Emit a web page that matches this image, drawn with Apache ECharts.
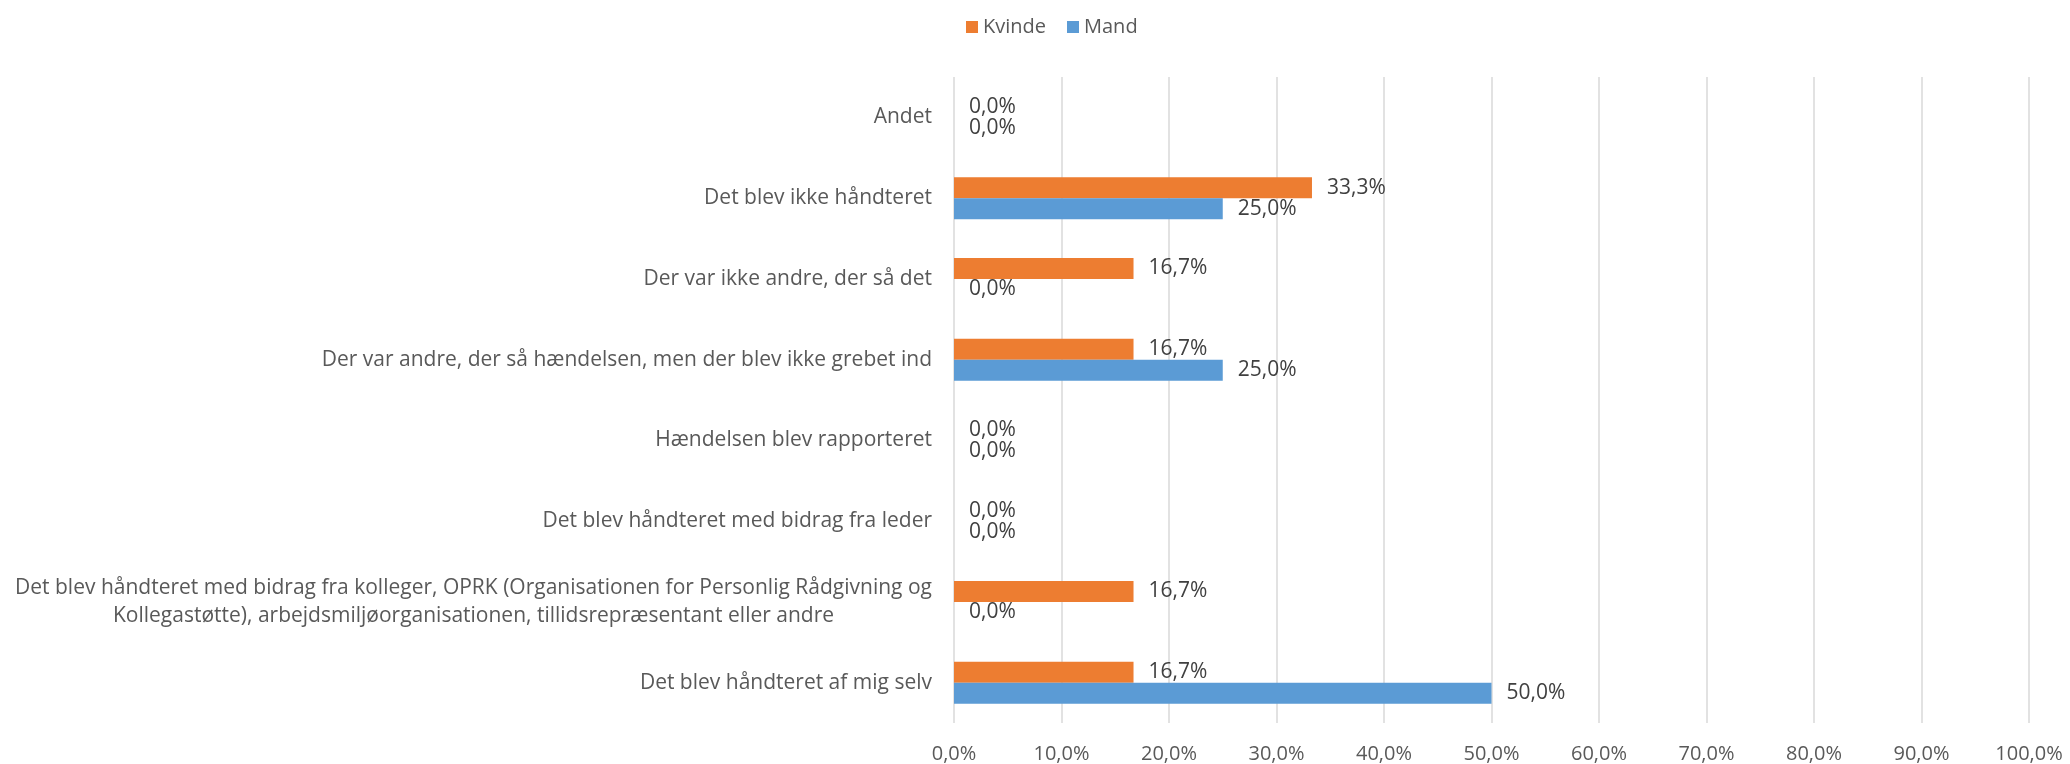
<!DOCTYPE html>
<html>
<head>
<meta charset="utf-8">
<title>Håndtering af hændelsen</title>
<script src="https://cdn.jsdelivr.net/npm/echarts@6/dist/echarts.min.js"></script>
<style>
  html, body { margin: 0; padding: 0; background: #fff; }
  #chart { width: 2070px; height: 764px; }
</style>
</head>
<body>
<div id="chart"></div>
<script>
const categories = [
  'Andet',
  'Det blev ikke håndteret',
  'Der var ikke andre, der så det',
  'Der var andre, der så hændelsen, men der blev ikke grebet ind',
  'Hændelsen blev rapporteret',
  'Det blev håndteret med bidrag fra leder',
  'Det blev håndteret med bidrag fra kolleger, OPRK (Organisationen for Personlig Rådgivning og\nKollegastøtte), arbejdsmiljøorganisationen, tillidsrepræsentant eller andre',
  'Det blev håndteret af mig selv'
]
const kvinde = [0, 33.3, 16.7, 16.7, 0, 0, 16.7, 16.7]
const mand = [0, 25.0, 0, 25.0, 0, 0, 0, 50.0]
const xTicks = [0, 10, 20, 30, 40, 50, 60, 70, 80, 90, 100]

const font = "'Open Sans', sans-serif"
const textColor = '#595959'

// width of the first line of the two-line label, so the lines can be centred
const ctx = document.createElement('canvas').getContext('2d')
ctx.font = "21px 'Open Sans'"
const wrapWidth = Math.ceil(ctx.measureText(categories[6].split('\n')[0]).width)

const pct = v => v.toFixed(1).replace('.', ',') + '%'

const chart = echarts.init(document.getElementById('chart'))
chart.setOption({
  animation: false,
  textStyle: { fontFamily: font },
  legend: {
    data: ['Kvinde', 'Mand'],
    top: 12,
    left: 961,
    itemWidth: 12,
    itemHeight: 12,
    itemGap: 21,
    icon: 'rect',
    textStyle: { color: textColor, fontSize: 20, fontFamily: font }
  },
  grid: { left: 954, right: 41, top: 77, bottom: 41, containLabel: false },
  xAxis: {
    type: 'value',
    min: 0,
    max: 100,
    interval: 10,
    axisLine: { show: false },
    axisTick: { show: false },
    splitLine: { lineStyle: { color: '#d9d9d9', width: 1.5 } },
    axisLabel: {
      color: textColor,
      fontSize: 20,
      margin: 21,
      formatter: v => xTicks.includes(v) ? pct(v) : ''
    }
  },
  yAxis: {
    type: 'category',
    data: categories,
    inverse: true,
    axisLine: { show: false },
    axisTick: { show: false },
    axisLabel: {
      color: textColor,
      fontSize: 21,
      margin: 22,
      lineHeight: 28,
      formatter: v => v.includes('\n')
        ? v.split('\n').map(s => '{c|' + s + '}').join('\n')
        : v,
      rich: {
        c: { width: wrapWidth, align: 'center', fontSize: 21, lineHeight: 28, color: textColor, fontFamily: font }
      }
    }
  },
  series: [
    {
      name: 'Kvinde',
      type: 'bar',
      data: kvinde,
      barWidth: 21,
      barGap: '0%',
      itemStyle: { color: '#ED7D31' },
      label: {
        show: true, position: 'right', distance: 15,
        color: '#404040', fontSize: 21, fontFamily: font,
        formatter: p => pct(p.value)
      }
    },
    {
      name: 'Mand',
      type: 'bar',
      data: mand,
      barWidth: 21,
      barGap: '0%',
      itemStyle: { color: '#5B9BD5' },
      label: {
        show: true, position: 'right', distance: 15,
        color: '#404040', fontSize: 21, fontFamily: font,
        formatter: p => pct(p.value)
      }
    }
  ]
})
</script>
</body>
</html>
